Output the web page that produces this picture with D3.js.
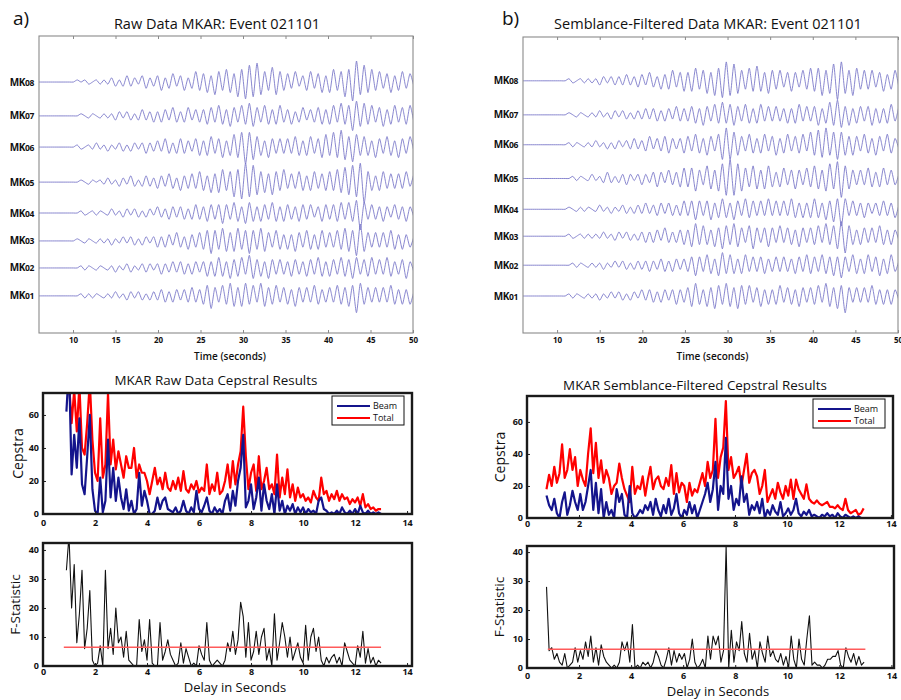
<!DOCTYPE html>
<html><head><meta charset="utf-8">
<script src="https://cdn.jsdelivr.net/npm/d3@7"></script>
<style>body{margin:0;background:#fff} svg{font-family:"Open Sans",sans-serif}</style>
</head><body><svg id="c" width="901" height="700"></svg>
<script>
// ---------------- DATA ----------------
const stations = ["MK08","MK07","MK06","MK05","MK04","MK03","MK02","MK01"];
const rawOffsets = [84.5,73.1,62.6,50.8,40.4,31.0,21.9,12.5];
const filtOffsets = [85.2,73.7,63.6,52.2,41.8,32.7,22.9,12.5];
const timeTicks = [10,15,20,25,30,35,40,45,50];
const traceStart = 6, traceDt = 0.45;

const rawMK08 = [0,0,0,0,0,0,0,0,0,0, 1,0,1,-1,0,1,-1,1, -1,2,-2,1,-2,3,-2,2,-1,3,-3,2,-2, 3,-4,2,-3,4,-2,3,-4,2,-3,5,-4, 4,-5,3,-6,5,-4,6,-5,4,-7,6,-8,8,-7,9,-6,5,-4,7,-6,5,-4, 4,-3,5,-2,3,-4,5,-3,4,-5,3, -5,6,-4,5,-7,6,-9,10,-6,8,-5,6,-4, 5,-3,4,-5,3,-4,5,-3,4,-2];
const rawMK07 = [0,0,0,0,0,0,0,0,0,0, 0,1,0,-1,1,0,-1,1, -1,1,-2,2,-1,2,-2,1,-2,3,-2,2,-3, 2,-3,3,-2,4,-3,2,-3,4,-2,3,-3, 3,-4,4,-3,5,-4,3,-5,4,-3,5,-4,6,-5,4,-3,5,-4,3,-4,5,-3, 3,-4,2,-3,4,-2,3,-3,4,-4,3, -4,5,-3,6,-4,5,-7,7,-5,6,-4,5,-3, 4,-5,3,-4,5,-3,4,-4,5,-3];
const rawMK06 = [0,0,0,0,0,0,0,0,0,0, 1,-1,0,1,-1,2,-1,1, -2,1,-1,2,-2,1,-2,2,-1,2,-3,2,-2, 3,-2,4,-3,2,-3,4,-3,3,-2,4,-4, 3,-4,5,-3,4,-5,3,-4,6,-5,7,-8,7,-6,5,-4,3,-5,4,-3,4,-3, 4,-3,5,-4,3,-4,5,-3,4,-5,6, -4,7,-5,8,-6,5,-7,6,-4,5,-4,3,-5, 4,-3,5,-4,3,-5,4,-3,5,-2];
const rawMK05 = [0,0,0,0,0,0,0,0,0,0, 0,1,0,-1,1,0,1,-1, 2,-1,1,-2,2,-1,3,-2,1,-2,3,-2,2, -3,3,-2,4,-3,2,-4,3,-3,4,-3,5, -4,3,-5,4,-5,6,-4,5,-7,6,-8,9,-7,8,-6,5,-5,4,-6,5,-4,6, -3,4,-3,5,-4,3,-4,5,-3,4,-4, 5,-4,6,-5,7,-6,8,-7,9,-10,5,-4,3, -4,5,-3,4,-3,4,-3,5,-2,4];
const rawMK04 = [0,0,0,0,0,0,0,0,0,0, 0,1,-1,0,1,-1,1,0, -1,2,-1,1,-2,2,-1,2,-2,1,-2,2,-1, 3,-2,2,-3,3,-2,3,-3,2,-3,4,-3, 3,-4,4,-3,4,-5,4,-3,5,-4,3,-5,5,-4,3,-4,4,-3,5,-4,3,-4, 4,-3,3,-4,4,-3,4,-2,3,-4,4, -3,4,-4,5,-3,5,-4,6,-8,5,-3,4,-3, 3,-4,3,-2,4,-3,3,-4,3,-2];
const rawMK03 = [0,0,0,0,0,0,0,0,0,0, 1,0,-1,1,0,-1,1,-1, 1,-2,1,-1,2,-1,2,-2,1,-2,2,-1,2, -3,2,-3,3,-2,4,-3,2,-4,3,-3,4, -4,5,-6,5,-4,6,-5,4,-5,6,-4,5,-6,5,-4,6,-5,4,-3,5,-4,3, -4,3,-5,4,-3,5,-4,3,-4,5,-3, 4,-3,5,-4,6,-5,5,-7,8,-5,4,-3,4, -3,4,-3,5,-4,3,-4,3,-3,2];
const rawMK02 = [0,0,0,0,0,0,0,0,0,0, 0,1,-1,1,0,-1,1,0, -1,1,-2,1,-1,2,-2,1,-1,2,-2,2,-1, 2,-3,2,-2,3,-2,3,-3,2,-3,3,-2, 3,-4,3,-4,5,-4,3,-5,4,-4,5,-3,6,-5,4,-4,3,-5,4,-3,4,-3, 3,-4,4,-3,3,-4,4,-3,5,-4,3, -4,4,-3,5,-4,4,-5,5,-3,4,-4,5,-3, 4,-3,5,-4,3,-3,4,-5,3,-2];
const rawMK01 = [0,0,0,0,0,0,0,0,0,0, 0,1,-1,1,-1,1,0,-1, 1,-1,2,-1,1,-2,2,-1,2,-2,1,-2,2, -2,3,-3,2,-3,3,-2,3,-3,4,-3,3, -4,5,-6,4,-3,5,-4,6,-5,4,-5,6,-4,5,-3,6,-5,4,-4,5,-3,4, -4,3,-5,4,-3,4,-3,5,-4,3,-3, 4,-3,5,-4,4,-5,5,-8,6,-4,4,-3,4, -3,4,-3,5,-4,3,-4,3,-4,2];

const filtMK08 = [0,0,0,0,0,0,0,0,0,0, 0,0,1,-1,0,1,-1,1, -1,1,-2,2,-1,2,-2,2,-2,3,-2,2,-3, 3,-2,4,-3,2,-4,3,-4,5,-3,4,-5, 4,-5,6,-4,5,-6,4,-7,6,-8,9,-7,8,-6,5,-4,6,-5,7,-5,4,-6, 5,-4,5,-3,4,-5,4,-3,5,-4,6, -5,6,-7,5,-6,8,-9,9,-6,5,-7,6,-4, 5,-4,5,-3,4,-5,3,-4,5,-3];
const filtMK07 = [0,0,0,0,0,0,0,0,0,0, 0,0,1,0,-1,1,0,-1, 1,-1,2,-1,1,-2,2,-1,2,-2,1,-2,2, -2,3,-2,3,-3,2,-3,3,-2,4,-3,3, -3,4,-4,3,-5,4,-3,5,-4,6,-4,5,-5,4,-3,5,-4,3,-4,5,-3,4, -3,4,-3,3,-4,3,-4,5,-3,4,-3, 4,-5,3,-4,6,-5,7,-6,4,-5,3,-4,4, -3,4,-5,3,-4,3,-4,5,-3,4];
const filtMK06 = [0,0,0,0,0,0,0,0,0,0, 0,0,1,-1,1,0,-1,1, -1,2,-1,1,-2,1,-2,2,-1,2,-2,3,-2, 2,-3,4,-2,3,-3,4,-4,3,-2,3,-4, 4,-3,5,-4,3,-5,4,-3,5,-7,8,-7,6,-5,4,-3,5,-4,3,-4,5,-3, 4,-5,3,-4,5,-3,4,-4,5,-3,6, -5,7,-6,8,-5,6,-7,6,-5,4,-5,4,-3, 5,-4,3,-5,4,-3,5,-4,3,-2];
const filtMK05 = [0,0,0,0,0,0,0,0,0,0, 0,0,0,1,-1,1,0,-1, 2,-1,1,-2,3,-2,1,-2,2,-3,2,-1,2, -3,2,-2,3,-4,3,-2,4,-3,3,-4,5, -4,5,-6,4,-3,6,-5,4,-6,7,-8,9,-8,7,-6,5,-4,6,-5,4,-5,6, -4,3,-4,5,-3,4,-5,4,-3,5,-4, 6,-5,4,-6,7,-5,8,-9,6,-5,4,-3,4, -3,5,-4,3,-4,5,-3,4,-3,2];
const filtMK04 = [0,0,0,0,0,0,0,0,0,0, 0,0,1,0,-1,1,-1,1, 0,-1,2,-1,1,-2,1,-1,2,-2,1,-2,2, -2,3,-2,2,-3,3,-2,3,-3,2,-3,4, -3,4,-5,4,-3,4,-5,3,-4,5,-4,3,-5,4,-3,5,-4,4,-3,4,-3,5, -3,4,-3,4,-3,5,-4,3,-4,3,-4, 5,-4,3,-5,4,-6,5,-8,5,-3,4,-3,3, -4,3,-2,3,-3,4,-3,3,-4,2];
const filtMK03 = [0,0,0,0,0,0,0,0,0,0, 0,0,1,-1,0,1,-1,1, -1,1,-1,2,-1,1,-2,2,-1,2,-2,1,-2, 2,-3,2,-3,3,-2,4,-3,2,-3,3,-4, 3,-5,6,-4,5,-4,3,-5,4,-6,5,-4,6,-5,4,-3,5,-6,4,-3,4,-5, 4,-3,5,-3,4,-4,3,-5,4,-3,4, -4,5,-3,6,-4,5,-6,7,-8,5,-4,3,-4, 4,-3,4,-3,5,-4,3,-4,3,-2];
const filtMK02 = [0,0,0,0,0,0,0,0,0,0, 0,0,0,1,-1,1,0,-1, 1,-1,1,-2,1,-1,2,-1,2,-2,1,-2,2, -2,2,-3,2,-2,3,-3,2,-3,3,-2,3, -3,4,-5,4,-3,5,-4,3,-5,6,-4,5,-4,3,-4,5,-3,4,-3,4,-4,3, -3,4,-3,4,-3,3,-4,4,-3,5,-4, 4,-3,5,-4,4,-5,4,-6,4,-3,5,-4,3, -4,5,-3,4,-5,3,-4,5,-3,2];
const filtMK01 = [0,0,0,0,0,0,0,0,0,0, 0,0,1,-1,1,0,-1,1, -1,1,-2,1,-1,2,-1,2,-2,1,-2,2,-1, 3,-2,3,-3,2,-3,3,-2,3,-4,3,-3, 4,-5,6,-4,3,-5,4,-6,5,-4,6,-5,4,-6,5,-4,5,-3,4,-5,3,-4, 3,-4,5,-3,4,-4,3,-5,4,-3,4, -4,5,-3,6,-5,4,-6,5,-8,4,-3,4,-3, 4,-3,5,-4,3,-4,3,-4,3,-2];

const delayTicks = [0,2,4,6,8,10,12,14];
const cepTicks = [0,20,40,60];
const fTicks = [0,10,20,30,40];
const lagDt = 0.1;
const rawLagStart = 0.9;
const filtLagStart = 0.75;
const fThreshold = 6.5;
const thresholdSpan = [0.8, 13];

const cepRawTotal = [90,80,55,75,50,78,40,36,55,80, 45,25,20,58,22,30,73,30,45,27, 38,30,22,35,28,28,40,22,30,25, 25,20,12,20,28,18,22,15,25,16, 14,20,15,22,14,26,15,13,18,15, 20,13,16,14,30,12,18,14,25,12, 14,20,30,16,32,18,30,38,65,35, 15,25,30,14,35,15,20,28,15,18, 12,36,10,22,12,27,10,18,8,16, 10,12,8,10,7,14,10,8,22,12, 14,8,12,9,14,8,12,9,10,6, 9,7,10,5,12,4,6,3,4,2, 3,3];
const cepRawBeam = [62,90,24,48,28,58,18,12,35,60, 15,2,0,22,1,8,45,10,28,8, 22,10,3,15,2,8,0,3,25,5, 14,8,0,0,2,10,3,8,10,3, 2,1,4,0,2,8,2,0,4,1, 14,3,1,5,10,2,0,4,1,3, 0,8,12,2,14,5,20,28,48,4, 8,18,3,10,22,2,18,8,3,12, 0,18,2,8,0,5,2,6,0,4, 1,4,0,3,1,2,0,8,10,3, 2,0,1,0,2,0,4,1,0,2, 0,3,0,5,1,0,2,0,1,0, 1,0];
const fRaw = [33,45,20,35,8,18,33,6,13,26, 2,0,1,7,0,33,6,13,4,20, 8,10,3,12,2,1,0,0,16,5, 9,2,16,1,0,0,15,2,5,9, 4,2,0,1,8,1,6,3,0,1, 0,7,4,2,15,2,0,1,2,1, 0,2,8,5,12,4,9,22,17,3, 15,2,5,12,4,10,13,2,6,0, 18,2,8,15,10,3,10,2,5,8, 3,1,14,2,10,13,5,10,2,0, 3,1,3,4,1,3,0,8,5,2, 1,0,7,3,12,1,6,1,3,0, 2,1];

const cepFiltBeam = [14,8,5,12,3,0,10,16,2,8, 17,10,5,15,5,10,20,30,5,22, 3,18,0,10,2,5,0,18,10,15, 2,0,20,3,0,2,5,3,8,5, 10,2,12,5,1,8,3,12,2,6, 15,3,0,5,2,10,3,8,0,5, 10,15,22,10,18,35,5,20,15,50, 12,20,5,12,8,26,10,15,2,8, 5,10,3,12,0,5,2,8,4,2, 10,1,3,6,2,5,12,3,1,4, 2,5,1,2,1,0,2,1,3,1, 2,0,3,1,0,2,1,0,1,0, 1,0,0];
const cepFiltTotal = [18,27,20,32,22,28,46,25,30,43, 30,38,20,30,24,20,40,56,28,47, 25,36,22,30,25,15,20,22,34,25, 18,14,10,32,15,20,18,26,14,24, 32,18,24,26,20,18,25,20,33,15, 28,16,22,20,10,22,14,18,16,22, 28,20,35,25,30,62,25,38,44,73, 30,38,25,28,32,20,30,40,22,28, 30,26,15,20,30,10,14,18,12,22, 16,12,20,14,24,12,24,18,15,12, 21,12,10,9,11,9,8,9,10,7, 7,6,8,6,5,12,5,3,4,5, 2,3,6];
const fFilt = [28,6,7,3,5,2,1,5,0,1, 2,7,2,6,3,9,4,11,2,7, 1,8,4,2,1,0,1,0,2,9, 6,9,2,15,0,1,0,2,1,2, 0,2,6,4,1,0,3,7,1,6, 2,5,3,5,0,3,10,2,0,1, 3,0,11,3,11,8,11,2,6,42, 0,13,2,9,6,16,5,2,12,3, 6,0,9,5,2,11,4,6,3,2, 5,1,4,0,11,3,0,10,3,1, 10,18,1,2,1,1,0,1,3,3, 4,4,6,1,0,7,4,2,5,1, 4,1,2];

// ---------------- DRAW ----------------
const svg = d3.select("#c");
const FONT = '"Open Sans",sans-serif';
let clipId = 0;
function clip(x0,y0,x1,y1){
  const id = "clip"+(clipId++);
  svg.append("clipPath").attr("id",id).append("rect")
    .attr("x",x0).attr("y",y0).attr("width",x1-x0).attr("height",y1-y0);
  return "url(#"+id+")";
}
function text(x,y,s,size,opts={}){
  return svg.append("text").attr("x",x).attr("y",y).text(s)
    .attr("font-size",size).attr("fill","#111")
    .attr("text-anchor",opts.anchor||"middle")
    .attr("font-weight",opts.weight||"normal")
    .attr("letter-spacing",opts.ls||null)
    .attr("transform",opts.rotate?`rotate(-90,${x},${y})`:null);
}

function seisPanel(o){
  const x = d3.scaleLinear().domain([traceStart,50]).range([o.x0,o.x1]);
  const y = d3.scaleLinear().domain([0,100]).range([o.y1,o.y0]);
  const amp = d3.scaleLinear().domain([-10,10]).range([21,-21]);
  const cp = clip(o.x0,o.y0-30,o.x1,o.y1);
  o.traces.forEach((tr,k)=>{
    const line = d3.line()
      .x((d,i)=>x(traceStart+i*traceDt))
      .y(d=>y(o.offsets[k])+amp(d))
      .curve(d3.curveCardinal.tension(0.35));
    svg.append("path").datum(tr).attr("d",line).attr("fill","none")
      .attr("stroke","#7471c6").attr("stroke-width",0.85).attr("clip-path",cp);
    const t = svg.append("text").attr("x",o.labelX).attr("y",y(o.offsets[k])+3.5)
      .attr("text-anchor","end").attr("font-size",10).attr("font-weight","bold").attr("fill","#111")
      .attr("letter-spacing",-0.4);
    t.append("tspan").text(stations[k].slice(0,2));
    t.append("tspan").attr("font-size",8.5).text(stations[k].slice(2));
  });
  // box
  svg.append("rect").attr("x",o.x0).attr("y",o.y0).attr("width",o.x1-o.x0).attr("height",o.y1-o.y0)
    .attr("fill","none").attr("stroke","#8a8a8a").attr("stroke-width",1.1);
  const gb = svg.append("g").attr("transform",`translate(0,${o.y1})`)
    .call(d3.axisBottom(x).tickValues(timeTicks).tickSize(-3).tickPadding(4));
  const gt = svg.append("g").attr("transform",`translate(0,${o.y0})`)
    .call(d3.axisTop(x).tickValues(timeTicks).tickSize(-3).tickFormat(""));
  [gb,gt].forEach(g=>{g.select(".domain").remove(); g.selectAll("line").attr("stroke","#8a8a8a");});
  gb.selectAll("text").attr("font-size",8).attr("font-weight","bold").attr("font-family",FONT).attr("fill","#111");
  text((o.x0+o.x1)/2+o.xlabShift, o.y1+27, "Time (seconds)", 10, {weight:"600"});
  text(o.titleX, 29, o.title, o.titleSize);
  text(o.letterX, 25, o.letter, 19, {anchor:"start"});
}

function cepPanel(o){
  const x = d3.scaleLinear().domain([0,o.xmax]).range([o.x0,o.x1]);
  const y = d3.scaleLinear().domain([0,o.ymax]).range([o.y1,o.y0]);
  const cp = clip(o.x0,o.y0,o.x1,o.y1);
  o.series.forEach(s=>{
    const line = d3.line().x((d,i)=>x(o.start+i*lagDt)).y(d=>y(d));
    svg.append("path").datum(s.data).attr("d",line).attr("fill","none")
      .attr("stroke",s.color).attr("stroke-width",s.width).attr("stroke-linejoin","round").attr("clip-path",cp);
  });
  if(o.threshold){
    svg.append("line").attr("x1",x(thresholdSpan[0])).attr("x2",x(thresholdSpan[1]))
      .attr("y1",y(fThreshold)).attr("y2",y(fThreshold)).attr("stroke","#ff5a5a").attr("stroke-width",1.5);
  }
  const gb = svg.append("g").attr("transform",`translate(0,${o.y1})`)
    .call(d3.axisBottom(x).tickValues(delayTicks).tickSize(-3).tickPadding(o.xpad));
  const gl = svg.append("g").attr("transform",`translate(${o.x0},0)`)
    .call(d3.axisLeft(y).tickValues(o.yticks).tickSize(-3).tickPadding(4));
  [gb,gl].forEach(g=>{
    g.select(".domain").remove();
    g.selectAll("line").attr("stroke","#222");
    g.selectAll("text").attr("font-size",9).attr("font-weight","bold").attr("font-family",FONT).attr("fill","#111");
  });
  svg.append("rect").attr("x",o.x0).attr("y",o.y0).attr("width",o.x1-o.x0).attr("height",o.y1-o.y0)
    .attr("fill","none").attr("stroke","#1a1a1a").attr("stroke-width",2.4);
  if(o.legend){
    const lx = o.x1-80, ly = o.y0+3;
    svg.append("rect").attr("x",lx).attr("y",ly).attr("width",72).attr("height",29)
      .attr("fill","#fff").attr("stroke","#111").attr("stroke-width",1);
    [["Beam","#14148c",10],["Total","#ff0000",22]].forEach(([lab,col,dy])=>{
      svg.append("line").attr("x1",lx+5).attr("x2",lx+38).attr("y1",ly+dy).attr("y2",ly+dy)
        .attr("stroke",col).attr("stroke-width",2.2);
      text(lx+41, ly+dy+3, lab, 9, {anchor:"start"});
    });
  }
  text(o.ylabX, (o.y0+o.y1)/2, o.ylab, o.ylabSize, {rotate:true});
  if(o.title) text(o.titleX, o.titleY, o.title, 13.4);
  if(o.xlab) text(o.xlabX, o.xlabY, o.xlab, 13);
}

seisPanel({x0:39,x1:413,y0:36,y1:333,offsets:rawOffsets,
  traces:[rawMK08,rawMK07,rawMK06,rawMK05,rawMK04,rawMK03,rawMK02,rawMK01],
  labelX:34,title:"Raw Data MKAR: Event 021101",titleX:217,titleSize:14.5,letter:"a)",letterX:13,xlabShift:4});
seisPanel({x0:523,x1:898,y0:37,y1:333,offsets:filtOffsets,
  traces:[filtMK08,filtMK07,filtMK06,filtMK05,filtMK04,filtMK03,filtMK02,filtMK01],
  labelX:518,title:"Semblance-Filtered Data MKAR: Event 021101",titleX:708,titleSize:14.5,letter:"b)",letterX:502,xlabShift:2});

cepPanel({x0:43,x1:412,y0:393,y1:514,xmax:14.19,ymax:73.3,start:rawLagStart,
  series:[{data:cepRawTotal,color:"#ff0000",width:2.2},{data:cepRawBeam,color:"#14148c",width:2.2}],
  yticks:cepTicks,xpad:6,legend:true,ylab:"Cepstra",ylabX:23,ylabSize:14,
  title:"MKAR Raw Data Cepstral Results",titleX:216,titleY:385});
cepPanel({x0:43,x1:412,y0:543,y1:666,xmax:14.19,ymax:42.4,start:rawLagStart,
  series:[{data:fRaw,color:"#111",width:1.1}],threshold:true,
  yticks:fTicks,xpad:3,ylab:"F-Statistic",ylabX:20,ylabSize:13.5,
  xlab:"Delay in Seconds",xlabX:235,xlabY:692});
cepPanel({x0:527,x1:893,y0:396,y1:518,xmax:14.08,ymax:76.2,start:filtLagStart,
  series:[{data:cepFiltTotal,color:"#ff0000",width:2.2},{data:cepFiltBeam,color:"#14148c",width:2.2}],
  yticks:cepTicks,xpad:3,legend:true,ylab:"Cepstra",ylabX:505,ylabSize:14,
  title:"MKAR Semblance-Filtered Cepstral Results",titleX:695,titleY:390});
cepPanel({x0:527,x1:894,y0:546,y1:668,xmax:14.1,ymax:42.1,start:filtLagStart,
  series:[{data:fFilt,color:"#111",width:1.1}],threshold:true,
  yticks:fTicks,xpad:5,ylab:"F-Statistic",ylabX:504,ylabSize:13.5,
  xlab:"Delay in Seconds",xlabX:718,xlabY:696});
</script></body></html>
